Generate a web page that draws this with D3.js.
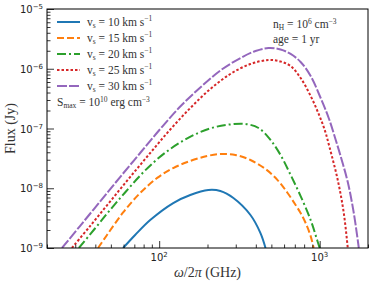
<!DOCTYPE html>
<html>
<head>
<meta charset="utf-8">
<title>Flux vs frequency</title>
<style>
  body { margin: 0; background: #fff; }
  .tick-label { font-family: "DejaVu Sans", sans-serif; font-size: 10px; fill: #222; }
  .serif { font-family: "Liberation Serif", "DejaVu Serif", serif; fill: #333; }
  .curve { fill: none; stroke-width: 2px; }
</style>
<script src="https://d3js.org/d3.v7.min.js"></script>
</head>
<body>
<script>
// shock velocities (km/s) for the legend
var velocities = ["10", "15", "20", "25", "30"];
var colors = ["#1f77b4", "#ff7f0e", "#2ca02c", "#d62728", "#9467bd"];
var dashes = [null, "7,3", "9,3,2,3", "2.5,2", "10,2"];

// frequency (GHz) and flux (Jy), one pair per curve
var freq10 = [59.6, 70.8, 87.9, 122.3, 156.2, 202.4, 240.5, 290, 370.4, 427.6, 459.8];
var flux10 = [1e-9, 1.65e-9, 2.94e-9, 5.66e-9, 7.71e-9, 9.35e-9, 9.0e-9, 6.87e-9, 3.57e-9, 1.78e-9, 1e-9];

var freq15 = [41.6, 47.3, 59.6, 76.1, 97.2, 122.3, 156.2, 199.5, 240.5, 298.5, 370.4, 459.8, 546.5, 631, 707.9, 760.6, 817.5, 878.5, 917.4];
var flux15 = [1e-9, 1.65e-9, 3.93e-9, 8.32e-9, 1.49e-8, 2.18e-8, 2.86e-8, 3.47e-8, 3.74e-8, 3.6e-8, 2.97e-8, 2.1e-8, 1.37e-8, 8.32e-9, 5.25e-9, 3.85e-9, 2.62e-9, 1.58e-9, 1e-9];

var freq20 = [31.6, 39.8, 49.4, 61.3, 76.1, 94.4, 117.2, 145.4, 180.4, 223.9, 277.5, 344.7, 416, 494, 570.5, 659, 760.6, 878.5, 964, 1000];
var flux20 = [1e-9, 2.12e-9, 4.32e-9, 8.49e-9, 1.63e-8, 2.86e-8, 4.54e-8, 6.55e-8, 8.73e-8, 1.06e-7, 1.17e-7, 1.19e-7, 1.02e-7, 6.43e-8, 3.6e-8, 1.67e-8, 7.4e-9, 2.94e-9, 1.36e-9, 1e-9];

var freq25 = [28.6, 37.1, 49.4, 65.9, 87.9, 117.2, 156.2, 208.2, 277.5, 370.4, 480, 570.5, 659, 760.6, 878.5, 985.7, 1075, 1155, 1296, 1413, 1496];
var flux25 = [1e-9, 2.33e-9, 5.98e-9, 1.54e-8, 3.89e-8, 9.62e-8, 2.2e-7, 4.58e-7, 8.17e-7, 1.2e-6, 1.40e-6, 1.32e-6, 1.11e-6, 7.0e-7, 3.5e-7, 1.75e-7, 9.44e-8, 4.72e-8, 1.37e-8, 3.85e-9, 1e-9];

var freq30 = [24.8, 32.1, 42.8, 57.1, 76.1, 101.5, 135.3, 180.4, 240.5, 320.9, 398, 480, 570.5, 659, 760.6, 878.5, 1014, 1138, 1259, 1372, 1496, 1631, 1753];
var flux30 = [1e-9, 2.33e-9, 5.98e-9, 1.54e-8, 3.89e-8, 9.8e-8, 2.33e-7, 4.86e-7, 9.35e-7, 1.51e-6, 1.98e-6, 2.22e-6, 2.1e-6, 1.77e-6, 1.30e-6, 7.56e-7, 3.24e-7, 1.50e-7, 6.43e-8, 2.97e-8, 1.27e-8, 3.85e-9, 1e-9];

var xTicks = [100, 1000];
var xTickExp = ["2", "3"];
var yTicks = [1e-9, 1e-8, 1e-7, 1e-6, 1e-5];
var yTickExp = ["\u22129", "\u22128", "\u22127", "\u22126", "\u22125"];

var series = [
  {f: freq10, s: flux10}, {f: freq15, s: flux15}, {f: freq20, s: flux20},
  {f: freq25, s: flux25}, {f: freq30, s: flux30}
];

var W = 374, H = 284;
var margin = {top: 9, right: 6, bottom: 36, left: 47};
var width = W - margin.left - margin.right,
    height = H - margin.top - margin.bottom;

var x = d3.scaleLog().domain([20, 2000]).range([0, width]);
var y = d3.scaleLog().domain([1e-9, 1e-5]).range([height, 0]);

var svg = d3.select("body").append("svg")
    .attr("width", W).attr("height", H);
var g = svg.append("g")
    .attr("transform", "translate(" + margin.left + "," + margin.top + ")");

g.append("clipPath").attr("id", "clip")
  .append("rect").attr("width", width).attr("height", height);

// curves
var line = d3.line()
    .x(function(d) { return x(d[0]); })
    .y(function(d) { return y(d[1]); })
    .curve(d3.curveCatmullRom.alpha(0.5));

series.forEach(function(sr, i) {
  var pts = sr.f.map(function(f, j) { return [f, sr.s[j]]; });
  g.append("path")
    .datum(pts)
    .attr("class", "curve")
    .attr("clip-path", "url(#clip)")
    .attr("stroke", colors[i])
    .attr("stroke-dasharray", dashes[i])
    .attr("d", line);
});

// axes, ticks pointing inward
var xAxis = g.append("g").attr("transform", "translate(0," + height + ")")
  .call(d3.axisBottom(x).tickValues(x.ticks()).tickSize(-3.5).tickFormat(""));
xAxis.selectAll(".tick line").filter(function(d) { return xTicks.indexOf(d) >= 0; })
  .attr("y2", -7);
var yAxis = g.append("g")
  .call(d3.axisLeft(y).tickValues(y.ticks()).tickSize(-3.5).tickFormat(""));
yAxis.selectAll(".tick line").filter(function(d) {
    return yTicks.some(function(t) { return Math.abs(t - d) / t < 1e-6; });
  }).attr("x2", 7);
g.selectAll(".domain").remove();
g.selectAll(".tick line").attr("stroke", "#000").attr("stroke-width", 0.8);

g.append("rect").attr("width", width).attr("height", height)
  .attr("fill", "none").attr("stroke", "#000").attr("stroke-width", 1);

// tick labels
xTicks.forEach(function(t, i) {
  var tx = g.append("text").attr("class", "tick-label")
    .attr("x", x(t)).attr("y", height + 13).attr("text-anchor", "middle");
  tx.append("tspan").text("10");
  tx.append("tspan").attr("dy", -4).attr("font-size", "7px").text(xTickExp[i]);
});
yTicks.forEach(function(t, i) {
  var ty = g.append("text").attr("class", "tick-label")
    .attr("x", -4).attr("y", y(t) + 4).attr("text-anchor", "end");
  ty.append("tspan").text("10");
  ty.append("tspan").attr("dy", -4).attr("font-size", "7px").text(yTickExp[i]);
});

// axis titles
var xl = svg.append("text").attr("class", "serif")
  .attr("x", margin.left + width / 2).attr("y", 277)
  .attr("text-anchor", "middle").attr("font-size", "14px");
xl.append("tspan").attr("font-style", "italic").text("\u03c9");
xl.append("tspan").text("/2");
xl.append("tspan").attr("font-style", "italic").text("\u03c0");
xl.append("tspan").text(" (GHz)");
svg.append("text").attr("class", "serif")
  .attr("transform", "translate(15," + (margin.top + height / 2) + ") rotate(-90)")
  .attr("text-anchor", "middle").attr("font-size", "14px")
  .text("Flux (Jy)");

// legend
var legend = g.append("g");
velocities.forEach(function(v, i) {
  var ly = 13 + i * 16;
  legend.append("line")
    .attr("x1", 10).attr("x2", 33).attr("y1", ly).attr("y2", ly)
    .attr("stroke", colors[i]).attr("stroke-width", 2)
    .attr("stroke-dasharray", dashes[i]);
  var t = legend.append("text").attr("class", "serif")
    .attr("x", 40).attr("y", ly + 3.5).attr("font-size", "11.5px");
  t.append("tspan").text("v");
  t.append("tspan").attr("dy", 2).attr("font-size", "7.5px").text("s");
  t.append("tspan").attr("dy", -2).text(" = " + v + " km s");
  t.append("tspan").attr("dy", -4.5).attr("font-size", "7.5px").text("\u22121");
});

// annotations
var s1 = g.append("text").attr("class", "serif")
  .attr("x", 10).attr("y", 97).attr("font-size", "11.5px");
s1.append("tspan").text("S");
s1.append("tspan").attr("dy", 2).attr("font-size", "7.5px").text("max");
s1.append("tspan").attr("dy", -2).text(" = 10");
s1.append("tspan").attr("dy", -4.5).attr("font-size", "7.5px").text("10");
s1.append("tspan").attr("dy", 4.5).text(" erg cm");
s1.append("tspan").attr("dy", -4.5).attr("font-size", "7.5px").text("\u22123");

var n1 = g.append("text").attr("class", "serif")
  .attr("x", 226).attr("y", 19).attr("font-size", "11.5px");
n1.append("tspan").text("n");
n1.append("tspan").attr("dy", 2).attr("font-size", "7.5px").text("H");
n1.append("tspan").attr("dy", -2).text(" = 10");
n1.append("tspan").attr("dy", -4.5).attr("font-size", "7.5px").text("6");
n1.append("tspan").attr("dy", 4.5).text(" cm");
n1.append("tspan").attr("dy", -4.5).attr("font-size", "7.5px").text("\u22123");

g.append("text").attr("class", "serif")
  .attr("x", 226).attr("y", 34).attr("font-size", "11.5px")
  .text("age = 1 yr");
</script>
</body>
</html>
